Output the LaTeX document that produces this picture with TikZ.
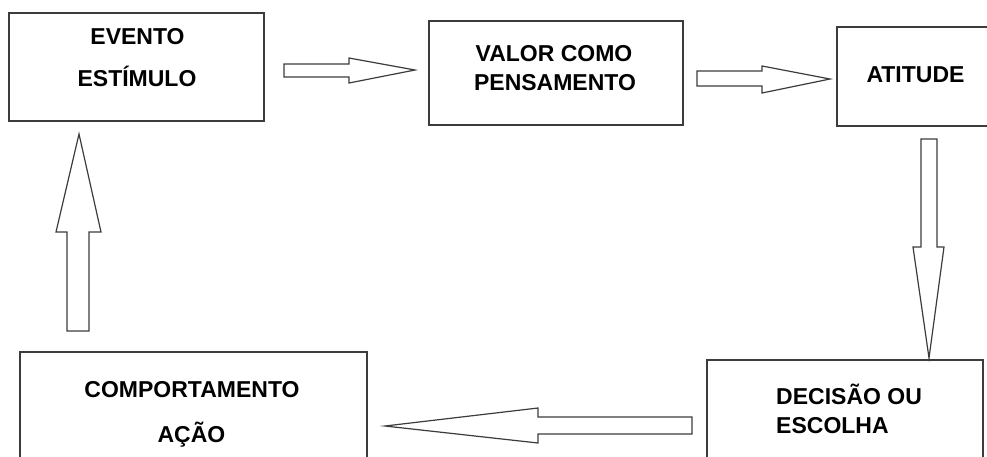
\documentclass[tikz,border=0pt]{standalone}
\usepackage{fontspec}
\setmainfont{Liberation Sans}
\begin{document}
\begin{tikzpicture}[x=1pt,y=-1pt,
  box/.style={draw=linegray, line width=1.3pt, rectangle, inner sep=0pt, fill=white},
  blockarrow/.style={draw=linegray, line width=1.2pt, fill=white, line join=miter},
  lbl/.style={inner sep=0pt, anchor=base, font=\fontsize{23}{23}\selectfont\bfseries, text=black},
  lblw/.style={lbl, anchor=base west}]
\definecolor{linegray}{RGB}{60,60,60}
\useasboundingbox (0,0) rectangle (987,456);
\fill[white] (0,0) rectangle (987,456);
\clip (0,0) rectangle (987,456);
% boxes
\node[box, minimum width=255pt, minimum height=108pt] (b1) at (136.5,67) {};
\node[box, minimum width=254pt, minimum height=104pt] (b2) at (556,73) {};
\node[box, minimum width=180pt, minimum height=99pt] (b3) at (927,76.5) {};
\node[box, minimum width=347pt, minimum height=140pt] (b4) at (193.5,422) {};
\node[box, minimum width=276pt, minimum height=140pt] (b5) at (845,430) {};
% labels
\node[lbl] (t1a) at (137.5,44) {EVENTO};
\node[lbl] (t1b) at (137,86) {ESTÍMULO};
\node[lbl] (t2a) at (554,61) {VALOR COMO};
\node[lbl] (t2b) at (555,90) {PENSAMENTO};
\node[lbl] (t3) at (915.5,82) {ATITUDE};
\node[lbl] (t4a) at (192,397) {COMPORTAMENTO};
\node[lbl] (t4b) at (191.5,442) {AÇÃO};
\node[lblw] (t5a) at (776,404) {DECISÃO OU};
\node[lblw] (t5b) at (776,433) {ESCOLHA};
% block arrows
\draw[blockarrow] (284,64) -- (349,64) -- (349,58) -- (415,70) -- (349,83) -- (349,77) -- (284,77) -- cycle;
\draw[blockarrow] (697,71) -- (762,71) -- (762,66) -- (830,79) -- (762,93) -- (762,86) -- (697,86) -- cycle;
\draw[blockarrow] (921,139) -- (937,139) -- (937,247) -- (944,247) -- (929,358) -- (913,247) -- (921,247) -- cycle;
\draw[blockarrow] (692,417) -- (538,417) -- (538,408) -- (385,426) -- (538,443) -- (538,434) -- (692,434) -- cycle;
\draw[blockarrow] (67,331) -- (67,232) -- (56,232) -- (79,134) -- (101,232) -- (89,232) -- (89,331) -- cycle;
\end{tikzpicture}
\end{document}
